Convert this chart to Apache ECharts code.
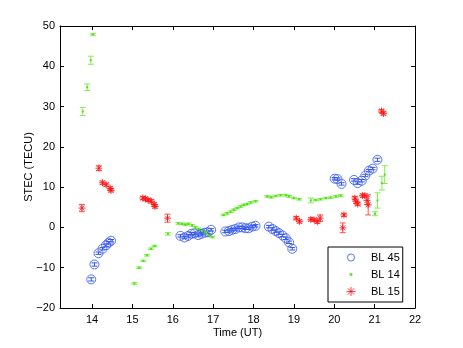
<!DOCTYPE html>
<html>
<head>
<meta charset="utf-8">
<script src="https://cdn.jsdelivr.net/npm/echarts@6/dist/echarts.min.js"></script>
<style>
  html, body { margin: 0; padding: 0; background: #fff; }
  #main { width: 463px; height: 348px; }
</style>
</head>
<body>
<div id="main"></div>
<script>
// BL 45 (circles)
var bl45Time = [13.98, 14.06, 14.16, 14.26, 14.35, 14.41, 14.47,
  16.19, 16.29, 16.38, 16.46, 16.54, 16.63, 16.71, 16.79, 16.87, 16.95,
  17.30, 17.39, 17.47, 17.55, 17.64, 17.72, 17.80, 17.88, 17.97, 18.05,
  18.38, 18.47, 18.55, 18.63, 18.72, 18.80, 18.88, 18.96,
  20.01, 20.08, 20.18, 20.49, 20.58, 20.68, 20.77, 20.86, 20.95, 21.07];
var bl45Stec = [-12.9, -9.2, -6.4, -5.3, -4.4, -3.8, -3.3,
  -2.1, -2.5, -2.1, -1.6, -1.5, -1.9, -1.6, -1.3, -1.2, -0.6,
  -1.0, -0.9, -0.6, -0.4, 0.0, 0.0, -0.2, -0.2, 0.2, 0.4,
  0.2, -0.4, -0.9, -1.4, -2.0, -2.7, -3.7, -5.3,
  12.1, 12.0, 10.8, 11.8, 11.0, 11.6, 12.9, 14.1, 14.6, 16.8];
var bl45Err = [0.4, 0.4, 0.3, 0.3, 0.3, 0.3, 0.3,
  0.3, 0.3, 0.3, 0.3, 0.3, 0.3, 0.3, 0.3, 0.3, 0.3,
  0.3, 0.3, 0.3, 0.3, 0.3, 0.3, 0.3, 0.3, 0.3, 0.3,
  0.3, 0.3, 0.3, 0.3, 0.3, 0.3, 0.3, 0.3,
  0.3, 0.3, 0.3, 0.3, 0.3, 0.3, 0.3, 0.3, 0.3, 0.4];

// BL 14 (dots)
var bl14Time = [13.77, 13.88, 13.97, 14.02,
  15.05, 15.17, 15.27, 15.36, 15.46, 15.55, 15.88,
  16.14, 16.23, 16.31, 16.39, 16.48, 16.56, 16.64, 16.73, 16.81, 16.89, 16.98,
  17.26, 17.35, 17.43, 17.51, 17.60, 17.68, 17.76, 17.84, 17.93, 18.05,
  18.34, 18.44, 18.55, 18.67, 18.80, 18.88, 19.00, 19.13,
  19.42, 19.54, 19.66, 19.79, 19.91, 20.04, 20.16,
  21.01, 21.07, 21.18, 21.25];
var bl14Stec = [28.8, 34.8, 41.5, 47.9,
  -13.9, -10.0, -8.3, -6.9, -5.3, -4.6, -1.6,
  1.0, 0.9, 0.7, 0.9, 0.5, 0.0, -0.4, -0.8, -1.2, -1.9, -2.4,
  3.1, 3.5, 3.9, 4.4, 4.8, 5.2, 5.6, 5.8, 6.2, 6.5,
  7.7, 7.5, 7.8, 8.0, 8.0, 7.7, 7.3, 7.0,
  6.7, 6.8, 7.0, 7.3, 7.4, 7.7, 7.9,
  3.4, 6.7, 11.0, 13.1];
var bl14Err = [1.0, 0.8, 1.0, 0.2,
  0.2, 0.2, 0.2, 0.2, 0.2, 0.2, 0.3,
  0.2, 0.2, 0.2, 0.2, 0.2, 0.2, 0.2, 0.2, 0.2, 0.2, 0.2,
  0.2, 0.2, 0.2, 0.2, 0.2, 0.2, 0.2, 0.2, 0.2, 0.2,
  0.2, 0.2, 0.2, 0.2, 0.2, 0.2, 0.2, 0.2,
  0.6, 0.2, 0.2, 0.2, 0.2, 0.2, 0.2,
  0.5, 1.9, 1.7, 2.2];

// BL 15 (asterisks)
var bl15Time = [13.75, 14.17, 14.26, 14.35, 14.45, 14.47,
  15.26, 15.32, 15.39, 15.47, 15.54, 15.56, 15.87,
  19.06, 19.14, 19.42, 19.50, 19.58, 19.65,
  20.21, 20.24, 20.51, 20.54, 20.58, 20.70, 20.76, 20.81, 20.84,
  21.17, 21.22];
var bl15Stec = [4.8, 14.7, 11.1, 10.6, 9.7, 9.2,
  7.3, 7.1, 6.8, 6.5, 5.7, 5.2, 2.3,
  2.3, 1.5, 2.0, 1.9, 1.4, 2.3,
  -0.1, 3.1, 7.3, 6.4, 5.8, 7.9, 7.9, 6.7, 5.6,
  28.9, 28.3];
var bl15Err = [0.9, 0.6, 0.4, 0.4, 0.4, 0.4,
  0.4, 0.4, 0.4, 0.4, 0.4, 0.4, 1.0,
  0.4, 0.4, 0.4, 0.4, 0.4, 0.8,
  1.2, 0.4, 0.4, 0.4, 0.4, 0.4, 0.4, 1.0, 2.5,
  0.4, 0.4];

var xTicks = [14, 15, 16, 17, 18, 19, 20, 21, 22];

var BLUE = '#3355f0', GREEN = '#44d400', GREEN_BAR = '#7ef04a', RED = '#ff1010', RED_BAR = '#ff5050';
var FONT = 'Liberation Sans, Arial, sans-serif';

function zip(t, v, e) {
  return t.map(function (x, i) { return [x, v[i], e[i]]; });
}

function errorBars(color) {
  return function (params, api) {
    var x = api.value(0), y = api.value(1), e = api.value(2);
    var hi = api.coord([x, y + e]);
    var lo = api.coord([x, y - e]);
    var w = 3;
    var st = { stroke: color, lineWidth: 1 };
    return {
      type: 'group',
      children: [
        { type: 'line', shape: { x1: hi[0], y1: hi[1], x2: lo[0], y2: lo[1] }, style: st },
        { type: 'line', shape: { x1: hi[0] - w, y1: hi[1], x2: hi[0] + w, y2: hi[1] }, style: st },
        { type: 'line', shape: { x1: lo[0] - w, y1: lo[1], x2: lo[0] + w, y2: lo[1] }, style: st }
      ]
    };
  };
}

var asterisk = 'path://M5,0L5,10M0,5L10,5M1.5,1.5L8.5,8.5M1.5,8.5L8.5,1.5';
// tiny dot centred in a wide empty box, so the legend icon stays small
var dotIcon = 'path://M0,0M30,10M13.5,3.5L16.5,3.5L16.5,6.5L13.5,6.5Z';
var circleIcon = 'path://M0,0M30,10M19,5A4,4,0,1,1,11,5A4,4,0,1,1,19,5Z';

var chart = echarts.init(document.getElementById('main'), null, { renderer: 'canvas' });

var axisLabelStyle = { color: '#000', fontSize: 11, fontFamily: FONT };

chart.setOption({
  animation: false,
  backgroundColor: '#fff',
  grid: { left: 60, right: 48, top: 26, bottom: 40 },
  legend: {
    orient: 'vertical',
    left: 328,
    top: 247,
    padding: [5, 3, 5, 9],
    itemWidth: 30,
    itemHeight: 9,
    itemGap: 6,
    borderColor: '#000',
    borderWidth: 1,
    backgroundColor: '#fff',
    textStyle: { color: '#000', fontSize: 11, fontFamily: FONT },
    data: [
      { name: 'BL 45', icon: circleIcon, itemStyle: { color: 'rgba(0,0,0,0)', borderColor: BLUE, borderWidth: 1 } },
      { name: 'BL 14', icon: dotIcon, itemStyle: { color: GREEN, borderWidth: 0 } },
      { name: 'BL 15', icon: asterisk, itemStyle: { color: 'rgba(0,0,0,0)', borderColor: RED, borderWidth: 1 } }
    ]
  },
  xAxis: [{
    type: 'value',
    min: 13.207,
    max: 22,
    name: 'Time (UT)',
    nameLocation: 'middle',
    nameGap: 19,
    nameMoveOverlap: false,
    nameTextStyle: axisLabelStyle,
    splitLine: { show: false },
    axisLine: { onZero: false, lineStyle: { color: '#000', width: 1 } },
    axisTick: { inside: true, length: 4, customValues: xTicks, lineStyle: { color: '#000' } },
    axisLabel: Object.assign({ customValues: xTicks, margin: 6 }, axisLabelStyle)
  }, {
    type: 'value',
    position: 'top',
    min: 13.207,
    max: 22,
    splitLine: { show: false },
    axisLine: { onZero: false, lineStyle: { color: '#000', width: 1 } },
    axisTick: { inside: true, length: 4, customValues: xTicks, lineStyle: { color: '#000' } },
    axisLabel: { show: false }
  }],
  yAxis: [{
    type: 'value',
    min: -20,
    max: 50,
    interval: 10,
    name: 'STEC (TECU)',
    nameLocation: 'middle',
    nameGap: 26,
    nameMoveOverlap: false,
    nameTextStyle: axisLabelStyle,
    splitLine: { show: false },
    axisLine: { onZero: false, lineStyle: { color: '#000', width: 1 } },
    axisTick: { inside: true, length: 4, lineStyle: { color: '#000' } },
    axisLabel: Object.assign({ margin: 5, formatter: function (v) { return String(v).replace('-', '\u2212'); } }, axisLabelStyle)
  }, {
    type: 'value',
    position: 'right',
    min: -20,
    max: 50,
    interval: 10,
    splitLine: { show: false },
    axisLine: { onZero: false, lineStyle: { color: '#000', width: 1 } },
    axisTick: { inside: true, length: 4, lineStyle: { color: '#000' } },
    axisLabel: { show: false }
  }],
  series: [
    {
      name: 'BL 45 err', type: 'custom', renderItem: errorBars(BLUE),
      data: zip(bl45Time, bl45Stec, bl45Err), z: 2
    },
    {
      name: 'BL 14 err', type: 'custom', renderItem: errorBars(GREEN_BAR),
      data: zip(bl14Time, bl14Stec, bl14Err), z: 2
    },
    {
      name: 'BL 15 err', type: 'custom', renderItem: errorBars(RED_BAR),
      data: zip(bl15Time, bl15Stec, bl15Err), z: 2
    },
    {
      name: 'BL 45', type: 'scatter', symbol: 'circle', symbolSize: 9,
      itemStyle: { color: 'rgba(0,0,0,0)', borderColor: BLUE, borderWidth: 1 },
      data: zip(bl45Time, bl45Stec, bl45Err), z: 3
    },
    {
      name: 'BL 14', type: 'scatter', symbol: 'rect', symbolSize: 2,
      itemStyle: { color: GREEN },
      data: zip(bl14Time, bl14Stec, bl14Err), z: 3
    },
    {
      name: 'BL 15', type: 'scatter', symbol: asterisk, symbolSize: 7,
      itemStyle: { color: 'rgba(0,0,0,0)', borderColor: RED, borderWidth: 1 },
      data: zip(bl15Time, bl15Stec, bl15Err), z: 3
    }
  ]
});
</script>
</body>
</html>
